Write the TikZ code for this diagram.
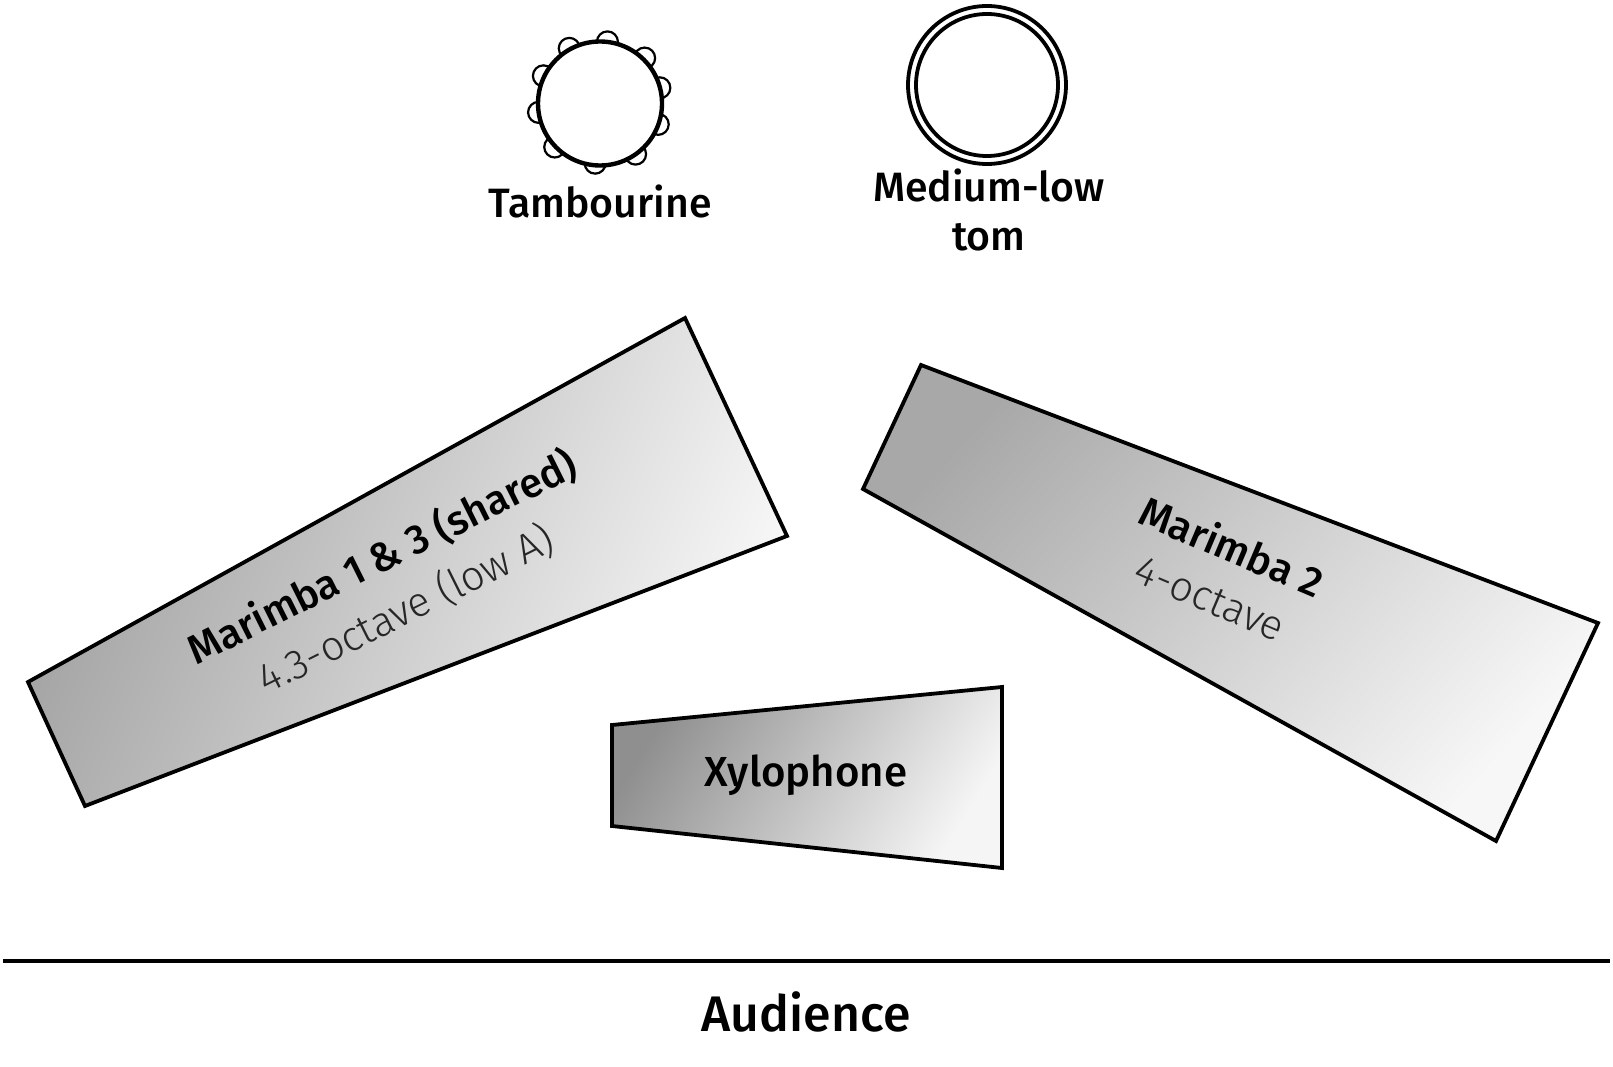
\documentclass[tikz,border=0pt]{standalone}
\usepackage{fontspec}
\setmainfont{Fira Sans}
\newfontfamily\lightf{Fira Sans Light}
\newfontfamily\medf{Fira Sans Medium}
\tikzset{
  x=1pt,y=-1pt,
  outline/.style={draw=black,line width=3.8pt,line join=miter},
  lab/.style={font=\medf\fontsize{41}{49}\selectfont,align=center,inner sep=0pt,text=black},
  sublab/.style={font=\lightf\fontsize{41.5}{50}\selectfont,inner sep=0pt,text=black!85},
  jingle/.style={draw=black,line width=2.2pt,fill=white},
}
\begin{document}
\begin{tikzpicture}
\useasboundingbox (0,0) rectangle (1613,1067);
\fill[white] (0,0) rectangle (1613,1067);
% tambourine
\foreach \p/\q in {293/90,175/110,95/195,80/308,130/415,255/465,380/437,450/345,455/232,408/140}
  \draw[jingle] ({600+0.97*(510+\p/3-600)},{103.5+0.97*(10+\q/3-103.5)}) circle[radius=10.5];
\draw[line width=4.4pt,fill=white] (600,103.5) circle[radius=62];
\node[lab] (tamb) at (600,201) {Tambourine};
% tom
\draw[line width=3.8pt] (987,85) circle[radius=79];
\draw[line width=3.8pt] (987,85) circle[radius=71];
\node[lab] (tom) at (989,210) {Medium-low\\tom};
% marimbas
\path[outline,left color=black!37,right color=black!3,shading angle=68] (685,318) -- (787,536) -- (85,806) -- (28,682) -- cycle;
\path[outline,left color=black!34,right color=black!3,shading angle=48] (921,365) -- (1598,623) -- (1496,841) -- (863,489) -- cycle;
\path[outline,left color=black!44,right color=black!4,shading angle=58] (612,725) -- (1002,687) -- (1002,868) -- (612,826) -- cycle;
\node[lab,rotate=26.5] (m1) at (382,557) {Marimba 1 \& 3 (shared)};
\node[sublab,rotate=26.5] (m1s) at (406,609) {4.3-octave (low A)};
\node[lab,rotate=-23] (m2) at (1232,546) {Marimba 2};
\node[sublab,rotate=-23] (m2s) at (1210,599) {4-octave};
\node[lab,font=\medf\fontsize{42}{50}\selectfont] (xyl) at (806,775) {Xylophone};
% audience
\coordinate (la) at (3,961);
\coordinate (lb) at (1610,961);
\draw[line width=3.8pt] (la) -- (lb);
\node[lab,font=\medf\fontsize{50}{58}\selectfont] (aud) at (806,1012) {Audience};
\end{tikzpicture}
\end{document}
